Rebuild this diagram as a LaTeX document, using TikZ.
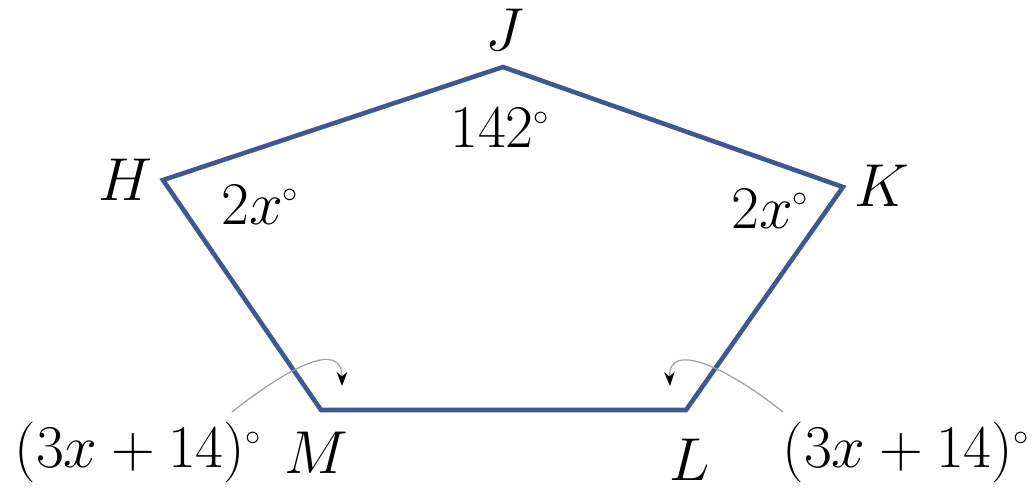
\RequirePackage{fix-cm}
\documentclass[tikz,border=0pt]{standalone}
\usetikzlibrary{arrows.meta}
\definecolor{edgeblue}{RGB}{62,88,150}
\definecolor{leadgray}{RGB}{160,160,160}
\newcommand{\dg}{^{\scriptscriptstyle\circ}}
\tikzset{
  lbl/.style={font=\fontsize{34.5}{40}\selectfont, inner sep=0pt},
  edge/.style={draw=edgeblue, line width=2.6pt, line join=miter},
  lead/.style={draw=leadgray, line width=0.7pt, -{Stealth[length=8pt,width=6pt,color=black]}}
}
\begin{document}
\begin{tikzpicture}[x=0.02cm,y=-0.02cm]
\useasboundingbox (0,0) rectangle (1036,491);
\coordinate (H) at (163,180);
\coordinate (J) at (503,67);
\coordinate (K) at (843,187);
\coordinate (L) at (686,410);
\coordinate (M) at (321,410);
\draw[edge] (H) -- (J) -- (K) -- (L) -- (M) -- cycle;
\node[lbl] (lJ) at (505,30) {$J$};
\node[lbl] (lH) at (125,180) {$H$};
\node[lbl] (lK) at (882,186) {$K$};
\node[lbl] (lM) at (316,453) {$M$};
\node[lbl] (lL) at (690,460) {$L$};
\node[lbl] (a142) at (500,128) {$142\dg$};
\node[lbl] (aH) at (260,205) {$2x\dg$};
\node[lbl] (aK) at (770,209) {$2x\dg$};
\node[lbl] (aM) at (138,452) {$(3x+14)\dg$};
\node[lbl] (aL) at (906,452) {$(3x+14)\dg$};
\coordinate (tM) at (342,386);
\coordinate (tL) at (670,386);
\draw[lead] (232,412) .. controls (290,366) and (342,340) .. (tM);
\draw[lead] (783,412) .. controls (728,368) and (668,340) .. (tL);
\end{tikzpicture}
\end{document}
